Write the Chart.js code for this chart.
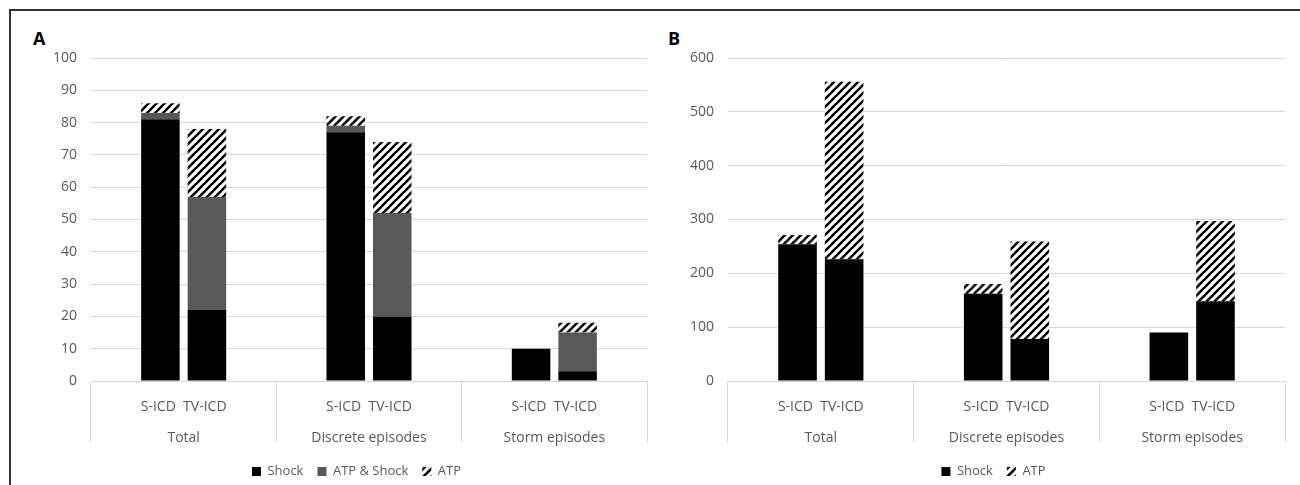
<!DOCTYPE html>
<html>
<head>
<meta charset="utf-8">
<script src="https://cdn.jsdelivr.net/npm/chart.js@4.4.1/dist/chart.umd.min.js"></script>
<style>
  body { margin: 0; background: #fff; overflow: hidden; }
  #frame {
    position: absolute; left: 9px; top: 9px; width: 1291px; height: 476px;
    border-top: 2px solid #333; border-left: 2px solid #333;
  }
  .panel-tag {
    position: absolute; font: bold 18px "Open Sans", sans-serif; color: #000; line-height: 18px;
  }
  canvas { position: absolute; top: 10px; }
</style>
</head>
<body>
<div id="frame"></div>
<div class="panel-tag" style="left:33px; top:29px;">A</div>
<div class="panel-tag" style="left:668px; top:29px;">B</div>
<canvas id="chartA" width="640" height="478" style="left:10px;"></canvas>
<canvas id="chartB" width="650" height="478" style="left:650px;"></canvas>
<script>
// groups along the x axis, and the two devices inside each group
const groups = ['Total', 'Discrete episodes', 'Storm episodes'];
const devices = ['S-ICD', 'TV-ICD'];

// Panel A - counts
const aShockS = [81, 77, 10];
const aAtpShockS = [2, 2, 0];
const aAtpS = [3, 3, 0];
const aShockT = [22, 20, 3];
const aAtpShockT = [35, 32, 12];
const aAtpT = [21, 22, 3];
const aTicks = [0, 10, 20, 30, 40, 50, 60, 70, 80, 90, 100];

// Panel B - counts
const bShockS = [254, 162, 90];
const bAtpS = [17, 18, 0];
const bShockT = [226, 78, 148];
const bAtpT = [330, 181, 149];
const bTicks = [0, 100, 200, 300, 400, 500, 600];

const FONT = '"Open Sans", sans-serif';
const GRID = '#d9d9d9';
const TEXT = '#595959';

// diagonal hatch used for ATP
function makeHatch() {
    const c = document.createElement('canvas');
    c.width = 8; c.height = 8;
    const g = c.getContext('2d');
    g.fillStyle = '#fff';
    g.fillRect(0, 0, 8, 8);
    g.strokeStyle = '#000';
    g.lineWidth = 2.6;
    g.beginPath();
    g.moveTo(-1, 9); g.lineTo(9, -1);
    g.moveTo(-3, 3); g.lineTo(3, -3);
    g.moveTo(5, 11); g.lineTo(11, 5);
    g.stroke();
    return g.createPattern(c, 'repeat');
}
const hatch = makeHatch();

// nudge the legend sideways (Excel centres it a bit left of the plot centre)
const legendShift = {
    id: 'legendShift',
    afterLayout(chart, args, opts) {
        chart.legend.left += opts.dx;
        chart.legend.right += opts.dx;
    }
};

function ds(label, data, color, stack) {
    return { label, data, backgroundColor: color, borderWidth: 0, stack,
             categoryPercentage: 0.502, barPercentage: 0.828 };
}

function buildChart(id, datasets, ticks, pad, yWidth, legendCount, dx) {
    const max = ticks[ticks.length - 1];
    return new Chart(document.getElementById(id), {
        type: 'bar',
        data: {
            labels: groups.map(g => [devices.join('  '), g]),
            datasets
        },
        plugins: [legendShift],
        options: {
            responsive: false,
            devicePixelRatio: 1,
            animation: false,
            layout: { padding: pad },
            plugins: {
                tooltip: { enabled: false },
                legendShift: { dx },
                legend: {
                    position: 'bottom',
                    labels: {
                        color: TEXT,
                        font: { family: FONT, size: 13 },
                        boxWidth: 9, boxHeight: 9,
                        padding: 14,
                        filter: item => item.datasetIndex < legendCount
                    }
                }
            },
            scales: {
                x: {
                    stacked: true,
                    grid: { drawOnChartArea: false, drawTicks: true, tickLength: 61, color: GRID, offset: true },
                    border: { color: GRID },
                    ticks: {
                        color: TEXT, padding: -50, maxRotation: 0, autoSkip: false,
                        font: { family: FONT, size: 14, lineHeight: '31px' }
                    },
                    afterFit: s => { s.height = 70; }
                },
                y: {
                    stacked: true,
                    min: 0, max,
                    afterBuildTicks: s => { s.ticks = ticks.map(v => ({ value: v })); },
                    grid: { color: GRID, drawTicks: false },
                    border: { display: false },
                    ticks: { color: TEXT, padding: 14, font: { family: FONT, size: 14 } },
                    afterFit: s => { s.width = yWidth; }
                }
            }
        }
    });
}

buildChart('chartA', [
    ds('Shock', aShockS, '#000000', devices[0]),
    ds('ATP & Shock', aAtpShockS, '#595959', devices[0]),
    ds('ATP', aAtpS, hatch, devices[0]),
    ds('Shock', aShockT, '#000000', devices[1]),
    ds('ATP & Shock', aAtpShockT, '#595959', devices[1]),
    ds('ATP', aAtpT, hatch, devices[1])
], aTicks, { left: 36, right: 3, top: 48, bottom: 0 }, 45, 3, 10);

buildChart('chartB', [
    ds('Shock', bShockS, '#000000', devices[0]),
    ds('ATP', bAtpS, hatch, devices[0]),
    ds('Shock', bShockT, '#000000', devices[1]),
    ds('ATP', bAtpT, hatch, devices[1])
], bTicks, { left: 12, right: 15, top: 48, bottom: 0 }, 66, 2, 20);
</script>
</body>
</html>
